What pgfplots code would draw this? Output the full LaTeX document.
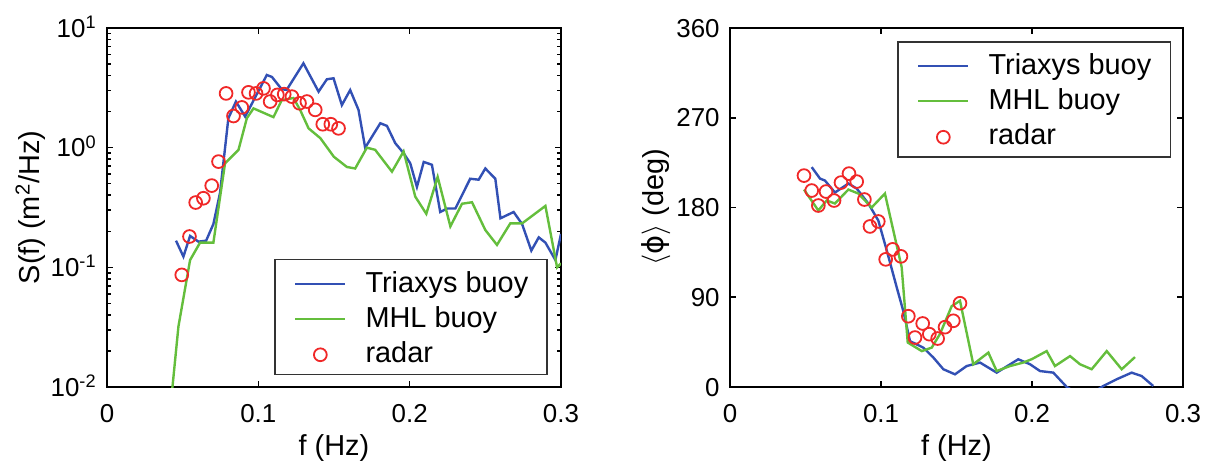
\documentclass[border=0pt]{standalone}
\usepackage{fontspec}
\setmainfont{Liberation Sans}
\newfontfamily\djv{DejaVu Sans}
\usepackage{pgfplots}
\pgfplotsset{compat=1.18}

\definecolor{triblue}{RGB}{50,80,180}
\definecolor{mhlgreen}{RGB}{100,190,60}
\definecolor{radred}{RGB}{240,40,40}

% 1 px of the reference = 0.5bp
\pgfplotsset{
  wavepanel/.style={
    scale only axis, height=179.5bp,
    xmin=0, xmax=0.3,
    xtick={0,0.1,0.2,0.3}, xticklabels={0,0.1,0.2,0.3},
    tick align=inside,
    major tick length=3bp, minor tick length=2bp,
    every tick/.style={black, line width=0.8bp},
    axis line style={line width=1bp},
    tick label style={font=\fontsize{13}{15}\selectfont},
    xticklabel style={anchor=base, yshift=-17.5bp},
    yticklabel style={anchor=base east, inner sep=0pt, xshift=-5bp, yshift=-4.6bp},
    every axis x label/.style={at={(rel axis cs:0.5,0)}, yshift=-34bp, anchor=base,
      font=\fontsize{14.5}{17}\selectfont},
    every axis y label/.style={at={(rel axis cs:0,0.5)}, xshift=-33.5bp, rotate=90, anchor=base,
      font=\fontsize{14.5}{17}\selectfont},
    xlabel={f (Hz)},
    legend cell align=left,
    legend style={font=\fontsize{14.5}{17}\selectfont, draw=black!80, line width=0.75bp,
      inner xsep=9.5bp, inner ysep=3.5bp,
      nodes={inner sep=0pt, text height=13bp, text depth=2.5bp},
      row sep=2bp,
      /tikz/every odd column/.append style={column sep=9.5bp}},
  },
  tri/.style={triblue, line width=1.2bp, legend image code/.code={\draw[##1] (0bp,-1bp) -- (25bp,-1bp);}},
  mhl/.style={mhlgreen, line width=1.2bp, legend image code/.code={\draw[##1] (0bp,-1bp) -- (25bp,-1bp);}},
  rad/.style={only marks, mark=o, mark size=3.2bp, mark options={radred, line width=0.9bp},
    legend image code/.code={\draw[##1] plot coordinates {(12.5bp,-1.5bp)};}},
}

\begin{document}
\begin{tikzpicture}
\useasboundingbox (-53.5bp,-40.5bp) rectangle (551.5bp,193.5bp);

\begin{axis}[wavepanel, at={(0,0)}, anchor=south west, width=227bp,
  ymode=log, ymin=0.01, ymax=10,
  ytick={0.01,0.1,1,10},
  yticklabels={10\textsuperscript{-2},10\textsuperscript{-1},10\textsuperscript{0},10\textsuperscript{1}},
  ylabel={S(f) (m\textsuperscript{2}/Hz)},
  legend style={at={(rel axis cs:1,0)}, anchor=south east, xshift=-6.5bp, yshift=6bp},
]
\addplot[tri] coordinates {
(0.0456,0.167) (0.0505,0.123) (0.0549,0.183) (0.0604,0.164) (0.0655,0.167)
(0.0703,0.23) (0.0747,0.42) (0.0802,1.76) (0.0852,2.43) (0.0913,1.82)
(0.1056,4.05) (0.1090,3.9) (0.1155,3.07) (0.1188,3.05) (0.1298,5.07)
(0.1398,2.94) (0.1453,3.73) (0.1497,3.8) (0.1552,2.27) (0.1607,3.03)
(0.1662,2.07) (0.1706,1.0) (0.1806,1.6) (0.1850,1.52) (0.1905,1.09)
(0.1960,0.90) (0.2004,0.74) (0.2048,0.47) (0.2093,0.76) (0.2147,0.72)
(0.2202,0.29) (0.2247,0.31) (0.2302,0.31) (0.2400,0.55) (0.2456,0.54)
(0.2500,0.67) (0.2566,0.55) (0.2600,0.257) (0.2687,0.29) (0.2743,0.23)
(0.2804,0.138) (0.2853,0.178) (0.2897,0.161) (0.2963,0.115) (0.3000,0.19)
};
\addlegendentry{Triaxys buoy}
\addplot[mhl] coordinates {
(0.0425,0.008) (0.0472,0.032) (0.0549,0.115) (0.0615,0.161) (0.0703,0.161)
(0.0780,0.74) (0.0869,0.96) (0.0924,1.76) (0.0968,2.13) (0.1100,1.80)
(0.1155,2.5) (0.1232,2.6) (0.1276,2.07) (0.1332,1.45) (0.1410,1.2)
(0.1499,0.84) (0.1585,0.69) (0.1640,0.67) (0.1717,1.0) (0.1772,0.96)
(0.1883,0.63) (0.1960,0.93) (0.2037,0.39) (0.2110,0.28) (0.2185,0.57)
(0.2269,0.22) (0.2346,0.34) (0.2412,0.35) (0.2500,0.205) (0.2577,0.154)
(0.2665,0.233) (0.2743,0.233) (0.2897,0.326) (0.2974,0.10) (0.3000,0.108)
};
\addlegendentry{MHL buoy}
\addplot[rad] coordinates {
(0.0494,0.0865) (0.0545,0.181) (0.0586,0.348) (0.0637,0.378) (0.0692,0.482)
(0.0737,0.765) (0.0787,2.84) (0.0836,1.84) (0.0891,2.17) (0.0935,2.90)
(0.0985,2.84) (0.1034,3.13) (0.1078,2.43) (0.1126,2.76) (0.1171,2.80)
(0.1222,2.67) (0.1272,2.35) (0.1321,2.43) (0.1376,2.07) (0.1426,1.57)
(0.1479,1.57) (0.1530,1.45)
};
\addlegendentry{radar}
\end{axis}

\begin{axis}[wavepanel, at={(311.5bp,0)}, anchor=south west, width=226.5bp,
  ymin=0, ymax=360, ytick={0,90,180,270,360},
  yticklabels={0,90,180,270,360},
  ylabel={\ensuremath{\langle}{\djv ϕ}\ensuremath{\rangle} (deg)},
  legend style={at={(rel axis cs:1,1)}, anchor=north east, xshift=-6bp, yshift=-6.5bp},
]
\addplot[tri] coordinates {
(0.0541,220.5) (0.0596,209) (0.0629,207) (0.0695,195) (0.0784,204)
(0.0839,199) (0.0916,184) (0.0982,167) (0.1038,137) (0.1104,100)
(0.1148,76) (0.1192,46) (0.1280,39.5) (0.1347,29.5) (0.1413,17.8)
(0.1490,12.7) (0.1567,21) (0.1656,24.5) (0.1766,14.4) (0.1909,27.8)
(0.1987,22.8) (0.2053,16) (0.2141,14.4) (0.2230,0) (0.2320,-8)
(0.2400,-6) (0.2472,1) (0.2560,7.7) (0.2660,14.4) (0.2726,11)
(0.2803,1)
};
\addlegendentry{Triaxys buoy}
\addplot[mhl] coordinates {
(0.0490,198) (0.0585,177) (0.0640,187) (0.0695,184) (0.0784,198)
(0.0850,194) (0.0938,180) (0.1026,194) (0.1137,120) (0.1177,44.6)
(0.1270,36) (0.1336,39.5) (0.1390,53) (0.1468,81) (0.1523,86.5)
(0.1611,22.8) (0.1711,34.5) (0.1766,16) (0.1854,21) (0.1942,24.5)
(0.2000,28) (0.2097,36) (0.2152,21) (0.2252,31) (0.2318,22.8)
(0.2395,17.8) (0.2495,36) (0.2594,17.8) (0.2682,30)
};
\addlegendentry{MHL buoy}
\addplot[rad] coordinates {
(0.0490,212) (0.0541,197) (0.0585,182) (0.0636,196) (0.0689,187)
(0.0735,205) (0.0788,214) (0.0839,206) (0.0890,188) (0.0927,161)
(0.0982,166) (0.1031,128) (0.1077,138) (0.1132,131) (0.1181,71)
(0.1225,49.6) (0.1276,63.7) (0.1320,53) (0.1375,48.6) (0.1424,60)
(0.1479,66.4) (0.1523,84)
};
\addlegendentry{radar}
\end{axis}
\end{tikzpicture}
\end{document}
